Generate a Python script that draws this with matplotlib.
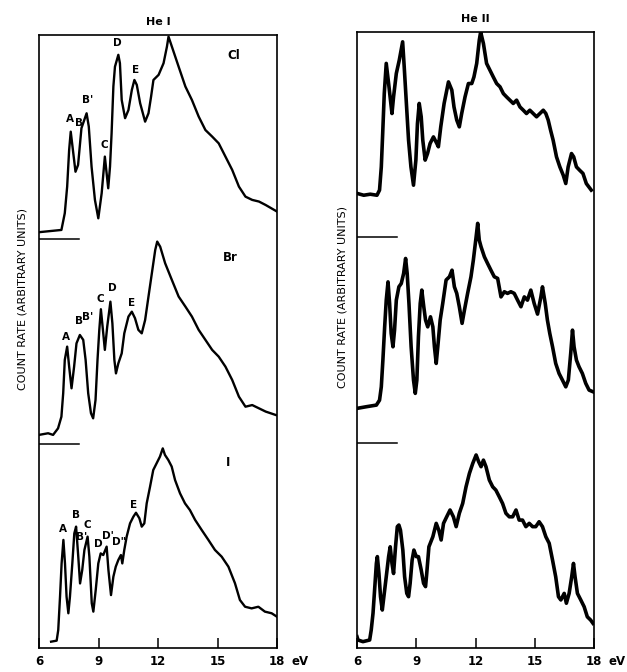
#!/usr/bin/env python3
"""
Photoelectron spectra of the methyl halides (Cl, Br, I) with He I and He II light.
Three traces per panel, stacked with a baseline marker for each upper trace.
Writes out.png
"""

import matplotlib
matplotlib.use("Agg")  # headless
import matplotlib.pyplot as plt
from matplotlib.transforms import blended_transform_factory, offset_copy

# ---- He I traces (energy in eV, count rate in % of one trace height) ----
hei_cl_ev = [6.00, 7.13, 7.30, 7.42, 7.52, 7.60, 7.84, 7.97, 8.14, 8.40, 8.51, 8.65,
             8.82, 8.99, 9.16, 9.32, 9.49, 9.58, 9.66, 9.75, 9.83, 10.00, 10.08, 10.17,
             10.34, 10.51, 10.68, 10.81, 10.93, 11.10, 11.35, 11.52, 11.65, 11.77, 12.03,
             12.28, 12.45, 12.53, 12.70, 13.04, 13.38, 13.71, 14.05, 14.39, 14.73, 15.06,
             15.40, 15.74, 16.08, 16.41, 16.75, 17.09, 17.43, 18.00]
hei_cl_ct = [3.5, 4.6, 12.8, 25.8, 43.8, 52.7, 33.1, 36.4, 54.4, 61.7, 55.2, 35.6,
             19.3, 10.3, 22.6, 40.5, 25.0, 35.6, 51.9, 74.8, 84.5, 90.3, 86.2, 68.2,
             59.3, 63.3, 73.1, 78.0, 75.6, 66.6, 57.6, 61.7, 69.8, 78.0, 80.5,
             86.2, 94.3, 99.2, 94.3, 84.5, 74.8, 68.2, 60.1, 53.5, 50.3, 47.0,
             40.5, 34.0, 25.8, 20.9, 19.3, 18.5, 16.8, 13.6]

hei_br_ev = [6.00, 6.46, 6.71, 6.96, 7.13, 7.22, 7.30, 7.42, 7.52, 7.64, 7.77, 7.89,
             8.06, 8.23, 8.35, 8.48, 8.62, 8.73, 8.85, 8.95, 9.04, 9.12, 9.24, 9.32,
             9.44, 9.60, 9.70, 9.80, 9.88, 10.00, 10.17, 10.30, 10.51, 10.68, 10.84,
             11.01, 11.18, 11.35, 11.52, 11.69, 11.86, 11.96, 12.11, 12.36, 12.70, 13.04,
             13.38, 13.71, 14.05, 14.39, 14.73, 15.06, 15.40, 15.74, 16.08, 16.41, 16.75,
             17.09, 17.43, 17.95]
hei_br_ct = [4.3, 5.1, 4.3, 7.5, 13.2, 24.7, 41.0, 47.5, 37.7, 27.1, 37.7, 49.1,
             53.2, 50.8, 41.0, 24.7, 14.9, 12.4, 21.4, 41.0, 55.7, 65.8, 54.0, 45.9,
             57.3, 69.5, 58.9, 41.0, 34.4, 39.3, 44.2, 54.0, 62.2, 64.6, 61.4,
             55.7, 54.0, 60.5, 72.0, 83.4, 94.8, 98.9, 96.4, 88.3, 80.1, 72.0,
             67.1, 62.2, 55.7, 50.8, 45.9, 42.6, 37.7, 31.2, 23.0, 18.1, 18.9,
             17.3, 15.7, 14.0]

hei_i_ev = [6.61, 6.89, 6.97, 7.06, 7.14, 7.23, 7.31, 7.39, 7.48, 7.56, 7.68, 7.78,
            7.87, 7.98, 8.07, 8.18, 8.29, 8.45, 8.54, 8.66, 8.74, 8.86, 8.99, 9.11,
            9.24, 9.41, 9.50, 9.63, 9.75, 9.87, 10.00, 10.13, 10.20, 10.30, 10.42,
            10.59, 10.76, 10.89, 11.06, 11.18, 11.31, 11.43, 11.60, 11.76, 11.93, 12.10,
            12.24, 12.35, 12.52, 12.69, 12.86, 13.11, 13.36, 13.61, 13.87, 14.20, 14.54,
            14.87, 15.21, 15.55, 15.88, 16.13, 16.39, 16.72, 17.06, 17.39, 17.73, 18.00]
hei_i_ct = [3.1, 3.6, 8.8, 25.1, 41.4, 52.9, 41.4, 25.1, 17.0, 25.1, 41.4, 56.1,
            59.4, 44.7, 31.6, 38.2, 48.0, 54.5, 44.7, 21.9, 17.8, 28.4, 41.4, 46.3,
            45.5, 49.6, 38.2, 25.9, 34.9, 39.8, 43.1, 45.5, 41.4, 48.0, 54.5,
            61.0, 64.3, 66.2, 63.5, 59.4, 61.0, 70.8, 79.0, 87.1, 90.4, 93.7,
            97.7, 94.5, 92.0, 88.8, 82.2, 75.7, 70.8, 67.5, 62.7, 57.8, 52.9,
            48.0, 44.7, 39.8, 31.7, 23.5, 20.2, 19.4, 20.2, 17.8, 17.0, 15.3]

# ---- He II traces ----
heii_cl_ev = [6.00, 6.34, 6.67, 7.01, 7.14, 7.23, 7.30, 7.38, 7.48, 7.60, 7.77, 7.85,
              7.99, 8.14, 8.31, 8.39, 8.49, 8.61, 8.73, 8.86, 8.98, 9.06, 9.15, 9.25,
              9.33, 9.45, 9.57, 9.70, 9.87, 10.04, 10.12, 10.24, 10.41, 10.63, 10.80,
              10.91, 11.05, 11.18, 11.30, 11.47, 11.64, 11.81, 11.92, 12.06, 12.19, 12.26,
              12.40, 12.56, 12.73, 12.90, 13.07, 13.24, 13.41, 13.57, 13.74, 13.91, 14.08,
              14.25, 14.42, 14.58, 14.75, 14.92, 15.09, 15.26, 15.43, 15.56, 15.68, 15.80,
              15.93, 16.10, 16.27, 16.44, 16.57, 16.69, 16.86, 16.97, 17.11, 17.27, 17.44,
              17.61, 17.86]
heii_cl_ct = [21.4, 20.5, 21.0, 20.5, 23.0, 34.3, 50.6, 70.0, 84.7, 74.9, 60.3, 68.4,
              79.8, 86.3, 95.2, 83.0, 66.8, 47.3, 34.3, 25.4, 37.6, 55.4, 65.2, 58.7,
              47.3, 37.6, 40.8, 45.7, 48.9, 45.7, 44.1, 53.8, 65.2, 75.7, 71.7,
              63.5, 57.1, 53.8, 60.3, 68.4, 74.9, 74.9, 78.1, 84.7, 96.0, 100.0,
              94.4, 84.7, 81.4, 78.1, 74.9, 73.3, 70.0, 68.4, 66.8, 65.2, 66.8,
              63.5, 61.9, 60.3, 61.9, 60.3, 58.7, 60.3, 61.9, 60.3, 57.1, 52.2,
              47.3, 39.2, 34.3, 30.3, 26.2, 34.3, 40.8, 39.2, 34.3, 32.7, 31.1,
              26.2, 23.0]

heii_br_ev = [6.00, 6.47, 6.98, 7.14, 7.23, 7.31, 7.40, 7.48, 7.57, 7.65, 7.73, 7.82,
              7.90, 7.99, 8.12, 8.24, 8.36, 8.46, 8.54, 8.63, 8.74, 8.86, 8.95, 9.03,
              9.11, 9.20, 9.28, 9.38, 9.47, 9.58, 9.72, 9.84, 9.92, 10.01, 10.09, 10.21,
              10.34, 10.51, 10.68, 10.81, 10.93, 11.05, 11.18, 11.32, 11.44, 11.60, 11.77,
              11.89, 12.03, 12.11, 12.19, 12.28, 12.45, 12.61, 12.78, 12.95, 13.12, 13.29,
              13.46, 13.62, 13.79, 13.96, 14.13, 14.30, 14.47, 14.63, 14.80, 14.97, 15.14,
              15.31, 15.39, 15.53, 15.64, 15.76, 15.90, 16.06, 16.23, 16.40, 16.57, 16.70,
              16.82, 16.91, 16.99, 17.11, 17.24, 17.41, 17.58, 17.75, 17.95]
heii_br_ct = [16.7, 17.5, 18.3, 20.7, 27.2, 40.2, 56.4, 69.4, 78.3, 67.8, 53.2, 46.7,
              54.8, 69.4, 75.9, 77.5, 82.4, 89.7, 82.4, 67.8, 46.7, 30.5, 24.0, 30.5,
              51.6, 67.8, 74.3, 66.2, 59.7, 56.4, 61.3, 56.4, 46.7, 38.6, 46.7, 59.7,
              67.8, 79.2, 80.8, 84.0, 75.9, 72.7, 66.2, 58.1, 64.6, 72.7, 80.8,
              88.9, 100.2, 106.8, 98.6, 95.4, 90.5, 87.3, 84.0, 80.8, 80.0, 71.0,
              73.5, 72.7, 73.5, 72.7, 69.4, 66.2, 71.0, 69.4, 74.3, 67.8, 62.6,
              71.0, 75.9, 67.8, 59.7, 53.2, 46.7, 38.6, 33.7, 30.5, 27.2, 30.5,
              43.5, 54.8, 46.7, 40.2, 37.0, 33.7, 28.9, 25.6, 24.8]

heii_i_ev = [6.00, 6.05, 6.30, 6.64, 6.72, 6.81, 6.89, 6.98, 7.03, 7.11, 7.19, 7.28,
             7.36, 7.48, 7.60, 7.68, 7.77, 7.85, 7.95, 8.04, 8.12, 8.20, 8.32, 8.41,
             8.52, 8.61, 8.69, 8.79, 8.88, 9.00, 9.11, 9.25, 9.37, 9.47, 9.53, 9.64,
             9.84, 10.01, 10.14, 10.26, 10.38, 10.54, 10.71, 10.88, 11.02, 11.18, 11.35,
             11.52, 11.69, 11.86, 12.03, 12.16, 12.28, 12.40, 12.53, 12.70, 12.87, 13.03,
             13.20, 13.37, 13.54, 13.71, 13.88, 14.05, 14.21, 14.38, 14.55, 14.72, 14.89,
             15.05, 15.22, 15.39, 15.56, 15.73, 15.90, 16.06, 16.20, 16.32, 16.49, 16.60,
             16.74, 16.87, 16.96, 17.04, 17.16, 17.33, 17.50, 17.66, 17.83, 17.95]
heii_i_ct = [5.5, 3.9, 3.1, 3.9, 8.8, 16.9, 28.2, 41.2, 44.5, 36.3, 25.0, 18.5,
             25.0, 34.7, 44.5, 49.3, 41.2, 36.3, 49.3, 59.1, 59.9, 57.4, 47.7, 34.7,
             26.6, 25.0, 31.5, 42.8, 47.7, 44.5, 44.5, 38.0, 31.5, 29.9, 36.3, 49.3,
             54.2, 60.7, 57.4, 52.6, 60.7, 63.9, 67.2, 63.9, 59.1, 65.6, 70.4,
             78.5, 85.0, 89.9, 94.0, 90.7, 88.3, 91.5, 88.3, 81.8, 78.5, 76.9,
             73.7, 70.4, 65.6, 63.9, 63.9, 67.2, 62.3, 62.3, 59.1, 60.7, 59.1,
             59.1, 61.5, 59.1, 54.2, 51.0, 42.8, 34.7, 25.0, 23.4, 26.6, 21.8,
             26.6, 34.7, 41.2, 34.7, 26.6, 23.4, 20.1, 15.2, 13.6, 12.0]

# ---- band labels on the He I traces (eV, height in trace units incl. offset) ----
cl_labels = ["A", "B", "B'", "C", "D", "E"]
cl_label_ev = [7.57, 8.03, 8.43, 9.29, 9.95, 10.86]
cl_label_y = [2.59, 2.57, 2.68, 2.46, 2.96, 2.83]
br_labels = ["A", "B", "B'", "C", "D", "E"]
br_label_ev = [7.38, 8.03, 8.45, 9.10, 9.70, 10.67]
br_label_y = [1.52, 1.60, 1.62, 1.71, 1.76, 1.69]
i_labels = ["A", "B", "B'", "C", "D", "D'", "D\"", "E"]
i_label_ev = [7.19, 7.87, 8.15, 8.45, 8.99, 9.46, 10.03, 10.76]
i_label_y = [0.58, 0.65, 0.545, 0.60, 0.51, 0.55, 0.52, 0.70]

molecules = ["Cl", "Br", "I"]
molecule_ev = [15.8, 15.65, 15.55]
molecule_y = [2.90, 1.91, 0.91]

XTICKS = [6, 9, 12, 15, 18]
FONT = "DejaVu Sans"


def draw_panel(fig, ax, traces, title, lw, label_x):
    # traces listed top to bottom; top sits at offset 2, bottom at 0
    for i, (ev, ct) in enumerate(traces):
        off = len(traces) - 1 - i
        ax.plot(ev, [off + c / 100.0 for c in ct], color="black", lw=lw,
                solid_joinstyle="round")
        if off > 0:
            # zero-count marker for the stacked traces
            ax.plot([6, 8], [off, off], color="black", lw=1.1)

    ax.set_xlim(6, 18)
    ax.set_ylim(0, 3)
    ax.set_yticks([])
    ax.set_xticks(XTICKS)
    ax.set_xticklabels([str(t) for t in XTICKS], fontsize=8.5, fontweight="bold",
                       family=FONT)
    ax.tick_params(axis="x", direction="in", length=7, width=1.1, pad=5)
    for s in ax.spines.values():
        s.set_linewidth(1.2)

    trans = offset_copy(blended_transform_factory(ax.transData, ax.transAxes),
                        fig=fig, y=-5, units="points")
    ax.text(18.72, 0, "eV", transform=trans, ha="left", va="top",
            fontsize=8.5, fontweight="bold", family=FONT, clip_on=False)
    ax.set_title(title, fontsize=8, fontweight="bold", family=FONT, pad=7)
    ax.set_ylabel("COUNT RATE (ARBITRARY UNITS)", fontsize=8, family=FONT)
    ax.yaxis.set_label_coords(label_x, 0.57)


def main():
    fig = plt.figure(figsize=(6.27, 6.72), dpi=100)
    ax_l = fig.add_axes([0.0622, 0.0357, 0.3796, 0.9122])
    ax_r = fig.add_axes([0.5694, 0.0357, 0.3780, 0.9167])

    draw_panel(fig, ax_l, [(hei_cl_ev, hei_cl_ct), (hei_br_ev, hei_br_ct),
                           (hei_i_ev, hei_i_ct)], "He I", 1.7, -0.05)
    draw_panel(fig, ax_r, [(heii_cl_ev, heii_cl_ct), (heii_br_ev, heii_br_ct),
                           (heii_i_ev, heii_i_ct)], "He II", 2.6, -0.042)

    for names, xs, ys in [(cl_labels, cl_label_ev, cl_label_y),
                          (br_labels, br_label_ev, br_label_y),
                          (i_labels, i_label_ev, i_label_y)]:
        for n, x, y in zip(names, xs, ys):
            ax_l.text(x, y, n, ha="center", va="center", fontsize=7.5,
                      fontweight="bold", family=FONT)

    for n, x, y in zip(molecules, molecule_ev, molecule_y):
        ax_l.text(x, y, n, ha="center", va="center", fontsize=8.5,
                  fontweight="bold", family=FONT)

    fig.savefig("out.png", dpi=100)
    plt.close(fig)


if __name__ == "__main__":
    main()
